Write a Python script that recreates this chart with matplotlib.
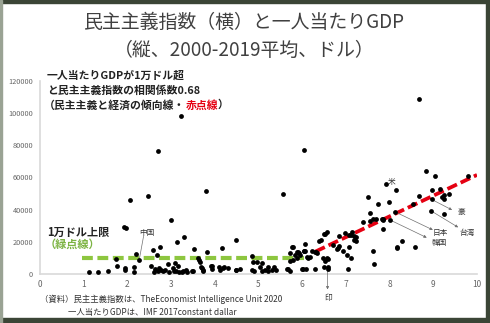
import matplotlib
matplotlib.use("Agg")
import matplotlib.pyplot as plt
from matplotlib.patches import Rectangle

plt.rcParams['font.family'] = ['Noto Sans CJK JP', 'DejaVu Sans']

# democracy index (x) and GDP per capita (y)
democracy = [
    1.13, 1.32, 1.55, 1.75, 1.77, 1.92, 1.96, 1.94, 1.95, 2.07, 2.14, 2.16, 2.20, 2.27,
    2.48, 2.53, 2.58, 2.63, 2.67, 2.69, 2.73, 2.75, 2.78, 2.82, 2.94, 3.00, 3.05, 3.06,
    3.10, 3.11, 3.13, 3.15, 3.23, 3.26, 3.30, 3.36, 3.47, 3.53, 3.62, 3.64, 3.66, 3.68,
    3.70, 3.74, 3.80, 3.83, 3.91, 3.94, 4.10, 4.16, 4.18, 4.21, 4.31, 4.48, 4.48, 4.58,
    4.84, 4.84, 4.90, 4.97, 2.60, 2.70, 2.86, 2.95, 3.18, 3.33, 3.28, 3.49, 3.72, 3.93,
    4.13, 4.49, 4.88, 5.03, 5.07, 5.09, 5.15, 5.22, 5.22, 5.32, 5.35, 5.41, 5.57, 5.66,
    5.68, 5.72, 5.72, 5.72, 5.76, 5.78, 5.80, 5.84, 5.87, 5.89, 5.91, 5.93, 5.95, 5.99,
    6.01, 6.03, 6.03, 6.04, 6.06, 6.06, 6.09, 6.10, 6.13, 6.18, 6.22, 6.29, 6.29, 6.31,
    6.33, 6.39, 6.42, 6.48, 6.50, 6.50, 6.52, 6.52, 6.56, 6.56, 6.58, 6.60, 6.60, 6.71,
    6.79, 6.83, 6.84, 6.85, 6.93, 6.98, 7.03, 7.05, 7.07, 7.08, 7.12, 7.12, 7.15, 7.19,
    7.19, 7.22, 7.22, 7.40, 7.51, 7.55, 7.56, 7.61, 7.62, 7.64, 7.69, 7.74, 7.82, 7.84,
    7.84, 7.86, 7.91, 7.99, 8.01, 8.12, 8.15, 8.16, 8.17, 8.28, 8.53, 8.58, 8.67, 8.67,
    8.83, 8.94, 8.96, 8.96, 9.05, 9.15, 9.21, 9.24, 9.25, 9.25, 9.37, 9.80,
]
gdp = [
    1000, 1000, 1700, 9500, 5000, 29000, 28400, 2500, 3500, 46000, 4200, 1000, 12600, 8700,
    48700, 4800, 15100, 2900, 11600, 76500, 3500, 16600, 2500, 1700, 6200, 33400, 3500, 2100,
    7000, 2100, 19900, 5000, 98400, 1500, 22800, 1500, 2100, 15500, 9800, 8700, 7600, 4500,
    3500, 2100, 51800, 13500, 5200, 2900, 4200, 16200, 3500, 4500, 3900, 21300, 2500, 2900,
    11300, 2500, 1900, 7600, 1200, 1800, 2400, 1200, 1000, 2600, 1900, 1900, 2500, 5000,
    2500, 2500, 7600, 4500, 6600, 2100, 2500, 4500, 2100, 2500, 4500, 2500, 49700, 2900,
    3100, 1900, 8100, 13200, 16600, 16600, 8700, 11800, 13900, 9800, 13500, 12900, 11800, 3100,
    3100, 76900, 14500, 14100, 18700, 14300, 3100, 10800, 9800, 10400, 14500, 13500, 2900, 13900,
    12900, 20700, 21100, 9800, 24900, 4500, 8300, 24900, 26300, 9800, 2900, 9100, 4200, 18000,
    15400, 16000, 23600, 17200, 14500, 25300, 11800, 3100, 16600, 24000, 24300, 9800, 26300, 23600,
    21100, 22800, 20700, 32100, 48100, 33100, 37700, 34400, 14500, 6000, 34000, 43500, 34400, 34200,
    28000, 33600, 55800, 44600, 33600, 38700, 52200, 16600, 16000, 20700, 43500, 16600, 48700, 108800,
    64200, 39400, 46400, 52200, 61100, 52800, 47700, 46600, 49100, 37300, 49600, 60900,
]

# guide lines
limit_x = [0.95, 6.05]
limit_y = [10000, 10000]
trend_x = [6.3, 10.0]
trend_y = [13900, 61600]

# labelled countries: name, point, arrow end, label position
labels = [
    ("中国", (2.27, 8700), (2.37, 23500), (2.45, 25800)),
    ("豪", (8.96, 46400), (9.43, 39800), (9.63, 38300)),
    ("日本", (8.12, 38700), (8.99, 27400), (9.16, 25600)),
    ("台湾", (8.94, 39400), (9.57, 29000), (9.77, 25600)),
    ("韓国", (8.01, 33600), (8.85, 22600), (9.13, 19000)),
    ("印", (6.58, 2900), (6.58, -9600), (6.58, -14700)),
]

W, H = 490, 323
fig = plt.figure(figsize=(W / 100, H / 100), dpi=100)
fig.patch.set_facecolor('white')

def fpos(px, py):
    return px / W, 1 - py / H

# dark frame around the slide
frame = '#3b4536'
fig.patches.append(Rectangle((0, 1 - 3 / H), 1, 3 / H, transform=fig.transFigure, color=frame))
fig.patches.append(Rectangle((0, 0), 1, 5 / H, transform=fig.transFigure, color=frame))
fig.patches.append(Rectangle((1 - 4 / W, 0), 4 / W, 1, transform=fig.transFigure, color=frame))
fig.patches.append(Rectangle((0, 0), 1.5 / W, 1, transform=fig.transFigure, color='#9aa394'))

ax = fig.add_axes([40 / W, 1 - 274 / H, 437 / W, 193 / H])
ax.set_xlim(0, 10)
ax.set_ylim(0, 120000)
ax.set_xticks(range(0, 11))
ax.set_yticks(range(0, 120001, 20000))
ax.tick_params(length=0, colors='#666666', labelsize=5.3)
ax.tick_params(axis='x', pad=4, labelsize=6)
ax.tick_params(axis='y', pad=5)
for s in ['top', 'right']:
    ax.spines[s].set_visible(False)
for s in ['left', 'bottom']:
    ax.spines[s].set_color('#d9d9d9')
    ax.spines[s].set_linewidth(1.2)

green = '#8dc63f'
red = '#e50012'
ax.plot(limit_x, limit_y, color=green, lw=3, linestyle=(0, (2.6, 1.1)), zorder=2)
ax.plot(trend_x, trend_y, color=red, lw=2.7, linestyle=(0, (2.8, 1.1)), zorder=3)
ax.scatter(democracy, gdp, s=12, color='black', zorder=4, linewidths=0)

for name, pt, end, pos in labels:
    style = '-' if name == '中国' else '-|>'
    ax.annotate('', xy=end, xytext=pt, annotation_clip=False,
                arrowprops=dict(arrowstyle=style, color='#707070', lw=0.5,
                                mutation_scale=4, shrinkA=1, shrinkB=0))
    ax.text(pos[0], pos[1], name, fontsize=5.5, color='#333333',
            ha='center', va='center', clip_on=False)
ax.text(8.05, 57000, "米", fontsize=5.5, color='#333333', ha='center', va='center')

# titles
fig.text(*fpos(244, 22), "民主主義指数（横）と一人当たりGDP", fontsize=13.6,
         color='#404040', ha='center', va='center')
fig.text(*fpos(244, 50), "（縦、2000-2019平均、ドル）", fontsize=13.6,
         color='#404040', ha='center', va='center')

# comment block
fs = 7.8
fig.text(*fpos(47, 76), "一人当たりGDPが1万ドル超", fontsize=fs, fontweight='bold',
         color='#222222', va='center')
fig.text(*fpos(47, 90.5), "と民主主義指数の相関係数0.68", fontsize=fs, fontweight='bold',
         color='#222222', va='center')
t3 = fig.text(*fpos(44, 105), "（民主主義と経済の傾向線・", fontsize=fs, fontweight='bold',
              color='#222222', va='center')
t4 = ax.annotate("赤点線", xy=(1, 0.5), xycoords=t3, fontsize=fs, fontweight='bold',
                 color=red, va='center', ha='left')
ax.annotate("）", xy=(1, 0.5), xycoords=t4, fontsize=fs, fontweight='bold',
            color='#222222', va='center', ha='left')

fig.text(*fpos(47, 232), "1万ドル上限", fontsize=8, fontweight='bold',
         color='#222222', va='center')
fig.text(*fpos(45, 244.5), "（緑点線）", fontsize=8, fontweight='bold',
         color='#7cb342', va='center')

# source
fig.text(*fpos(40, 299.5), "（資料）民主主義指数は、TheEconomist Intelligence Unit 2020",
         fontsize=6, color='#333333', va='center')
fig.text(*fpos(68, 313), "一人当たりGDPは、IMF 2017constant dallar",
         fontsize=6, color='#333333', va='center')

fig.savefig('out.png', dpi=100)
